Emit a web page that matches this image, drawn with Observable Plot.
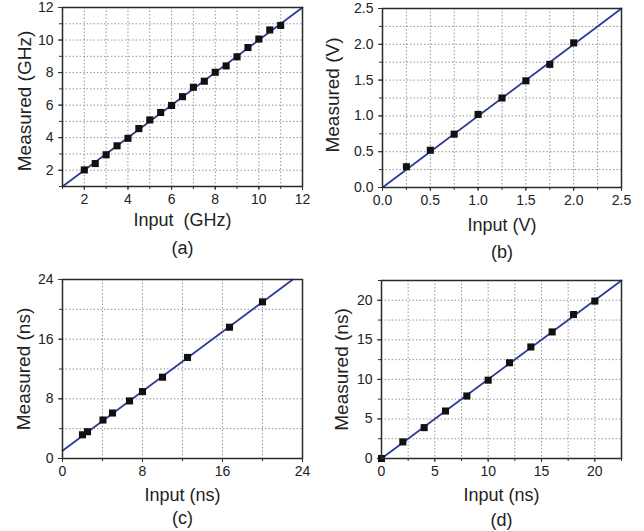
<!DOCTYPE html>
<html>
<head>
<meta charset="utf-8">
<script src="https://cdn.jsdelivr.net/npm/d3@7"></script>
<script src="https://cdn.jsdelivr.net/npm/@observablehq/plot@0.6"></script>
<style>
  html, body { margin: 0; padding: 0; background: #fff; }
  #wrap { position: relative; width: 644px; height: 531px; background: #fff; font-family: "Liberation Sans", Arial, sans-serif; }
  .panel { position: absolute; }
</style>
</head>
<body>
<div id="wrap"></div>
<script>
// ---- Data ----
// (a) frequency
const aInput    = [2, 2.5, 3, 3.5, 4, 4.5, 5, 5.5, 6, 6.5, 7, 7.5, 8, 8.5, 9, 9.5, 10, 10.5, 11];
const aMeasured = [2.02, 2.41, 2.95, 3.5, 3.96, 4.56, 5.09, 5.55, 5.98, 6.52, 7.1, 7.47, 8.02, 8.41, 8.97, 9.54, 10.06, 10.62, 10.9];
const aFitX = [1, 12];
const aFitY = [1, 12];
const aTicks = [2, 4, 6, 8, 10, 12];

// (b) voltage
const bInput    = [0.25, 0.5, 0.75, 1.0, 1.25, 1.5, 1.75, 2.0];
const bMeasured = [0.29, 0.52, 0.745, 1.02, 1.25, 1.49, 1.72, 2.02];
const bFitX = [0, 2.5];
const bFitY = [0, 2.5];
const bTicks = [0, 0.5, 1.0, 1.5, 2.0, 2.5];

// (c) time
const cInput    = [2.0, 2.5, 4.05, 5.0, 6.7, 8.0, 10.0, 12.5, 16.7, 20.0];
const cMeasured = [3.18, 3.59, 5.16, 6.1, 7.72, 8.97, 10.9, 13.55, 17.6, 21.0];
const cFitX = [0, 23.03];
const cFitY = [1.03, 24];
const cTicks = [0, 8, 16, 24];

// (d) time
const dInput    = [0, 2, 4, 6, 8, 10, 12, 14, 16, 18, 20];
const dMeasured = [0, 2.1, 3.9, 6.0, 7.9, 9.9, 12.1, 14.1, 16.0, 18.2, 19.9];
const dFitX = [0, 22.5];
const dFitY = [0, 22.5];
const dTicks = [0, 5, 10, 15, 20];

const FONT = "Liberation Sans, Arial, sans-serif";
const LINE_COLOR = "#2d3c98";

function panel(cfg) {
  const pts = cfg.xs.map((x, i) => ({x, y: cfg.ys[i]}));
  const fit = cfg.fitX.map((x, i) => ({x, y: cfg.fitY[i]}));
  const grid = d3.range(cfg.domain[0], cfg.domain[1] + 1e-9, cfg.gridStep).map(v => +v.toFixed(6));
  const W = 322, H = 265;
  return Plot.plot({
    width: W, height: H,
    marginLeft: cfg.m[0], marginRight: cfg.m[1], marginTop: cfg.m[2], marginBottom: cfg.m[3],
    style: {fontFamily: FONT, background: "transparent", overflow: "visible"},
    x: {domain: cfg.domain},
    y: {domain: cfg.domain},
    marks: [
      Plot.gridX(grid, {stroke: "#8a8a8a", strokeOpacity: 1, strokeWidth: 0.9, strokeDasharray: "1.5,2"}),
      Plot.gridY(grid, {stroke: "#8a8a8a", strokeOpacity: 1, strokeWidth: 0.9, strokeDasharray: "1.5,2"}),
      Plot.axisX(grid, {tickSize: 3, text: null, label: null, stroke: "#333"}),
      Plot.axisY(grid, {tickSize: 3, text: null, label: null, stroke: "#333"}),
      Plot.axisX(cfg.ticks, {tickSize: 4, tickPadding: 4, tickFormat: cfg.fmt, label: null, fontSize: 14, fill: "#222", stroke: "#333"}),
      Plot.axisY(cfg.ticks, {tickSize: 4, tickPadding: 5, tickFormat: cfg.fmt, label: null, fontSize: 14, fill: "#222", stroke: "#333"}),
      Plot.line(fit, {x: "x", y: "y", stroke: LINE_COLOR, strokeWidth: 1.8}),
      Plot.dot(pts, {x: "x", y: "y", symbol: "square", r: 4, fill: "#111", stroke: "none"}),
      Plot.frame({stroke: "#2a2a2a", strokeWidth: 1.5}),
      Plot.text([cfg.xLabel], {frameAnchor: "bottom", lineAnchor: "middle", dy: cfg.xLabelDy, fontSize: 18, fill: "#222", text: d => d}),
      Plot.text([cfg.caption], {frameAnchor: "bottom", lineAnchor: "middle", dy: cfg.capDy, fontSize: 18, fill: "#222", text: d => d}),
      Plot.text([cfg.yLabel], {frameAnchor: "left", dx: -cfg.yLabelDx, dy: cfg.yLabelDy, rotate: -90, textAnchor: "middle", lineAnchor: "middle", fontSize: 19, fill: "#222", text: d => d})
    ]
  });
}

const panels = [
  {pos: [0, 0], xs: aInput, ys: aMeasured, fitX: aFitX, fitY: aFitY, domain: [1, 12], gridStep: 1, ticks: aTicks,
   fmt: d3.format("d"), m: [62, 20, 7, 79], xLabel: "Input  (GHz)", yLabel: "Measured (GHz)", caption: "(a)",
   xLabelDy: 34, capDy: 62, yLabelDx: 38, yLabelDy: 4},
  {pos: [322, 0], xs: bInput, ys: bMeasured, fitX: bFitX, fitY: bFitY, domain: [0, 2.5], gridStep: 0.25, ticks: bTicks,
   fmt: d3.format(".1f"), m: [60, 23, 8, 78], xLabel: "Input (V)", yLabel: "Measured (V)", caption: "(b)",
   xLabelDy: 38, capDy: 65, yLabelDx: 50, yLabelDy: -3},
  {pos: [0, 265], xs: cInput, ys: cMeasured, fitX: cFitX, fitY: cFitY, domain: [0, 24], gridStep: 4, ticks: cTicks,
   fmt: d3.format("d"), m: [62, 20, 14, 72], xLabel: "Input (ns)", yLabel: "Measured (ns)", caption: "(c)",
   xLabelDy: 37, capDy: 60, yLabelDx: 39, yLabelDy: 0},
  {pos: [322, 265], xs: dInput, ys: dMeasured, fitX: dFitX, fitY: dFitY, domain: [0, 22.5], gridStep: 2.5, ticks: dTicks,
   fmt: d3.format("d"), m: [59, 23, 15, 72], xLabel: "Input (ns)", yLabel: "Measured (ns)", caption: "(d)",
   xLabelDy: 37, capDy: 62, yLabelDx: 40, yLabelDy: 0}
];

const wrap = document.getElementById("wrap");
for (const cfg of panels) {
  const div = document.createElement("div");
  div.className = "panel";
  div.style.left = cfg.pos[0] + "px";
  div.style.top = cfg.pos[1] + "px";
  div.appendChild(panel(cfg));
  wrap.appendChild(div);
}
</script>
</body>
</html>
